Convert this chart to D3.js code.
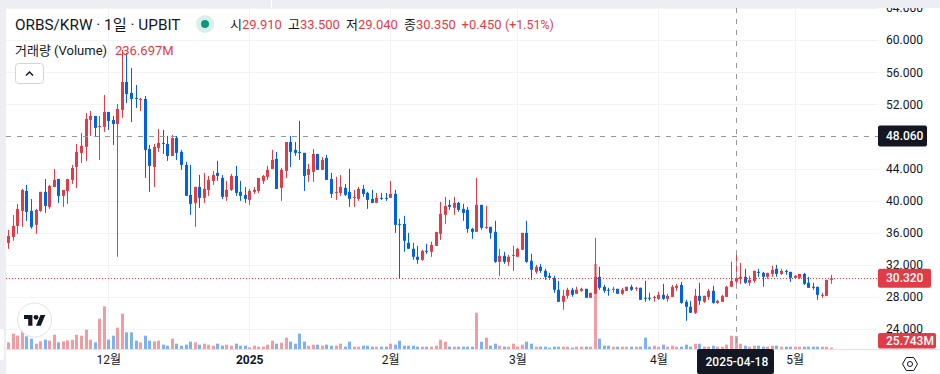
<!DOCTYPE html>
<html>
<head>
<meta charset="utf-8">
<script src="https://cdn.jsdelivr.net/npm/d3@7"></script>
<style>
  html, body { margin: 0; padding: 0; background: #fff; overflow: hidden; }
  text { font-family: Roboto, "Noto Sans CJK KR", sans-serif; }
</style>
</head>
<body>
<svg id="chart" width="940" height="374"></svg>
<script>
// daily candles, first one is 2024-11-09
const opens = [34.73,35.48,36.85,38.72,41.2,38.72,36.98,38.72,41.09,39.22,41.7,42.7,40.59,41.2,42.58,44.2,45.94,46.7,50.05,50.55,49.2,49.18,51.05,50.05,49.55,51.3,54.79,53.42,52.8,52.55,52.67,46.44,44.2,46.57,47.19,47.06,45.57,47.81,46.07,44.45,40.71,39.72,41.71,40.34,41.33,42.46,43.45,42.83,40.47,41.34,43.08,41.09,40.71,40.09,41.09,41.21,42.46,42.96,43.95,45.2,41.59,43.7,47.3,46.32,46.07,45.95,43.2,43.58,45.82,43.83,45.32,42.71,40.96,40.96,41.59,41.09,40.34,40.22,41.46,40.96,40.22,39.72,40.34,40.34,40.34,40.84,37.1,37.1,34.74,34,33,32.62,33.74,33.62,34.36,35.86,38.23,39.47,39.1,39.72,38.97,38.85,36.48,36.11,39.47,36.61,36.73,36.11,32.37,33.12,32.37,33.12,33,33.87,35.98,32.5,31.13,31.75,31.25,30.63,30.38,28.89,27.39,28.14,28.89,28.39,28.76,29.01,27.89,28.39,30.5,29.26,28.89,28.89,29.01,28.39,28.76,29.26,29.01,29.14,27.89,27.89,27.89,27.76,28.26,27.76,28,29.13,29.5,27.39,26.77,26.02,28.14,27.39,28,28.76,27.26,27.39,28,29.26,29.91,30.25,30.5,29.76,30,31.12,31,30.5,30.87,31.5,30.87,31.25,31.12,30.38,30.38,30.87,29.76,29.26,29.26,28.13,28.13,30.13];
const highs = [36.35,38.2,39.6,41.46,41.96,40.2,38.97,41.09,42.7,41.96,43.95,42.7,41.33,42.7,44.45,47.06,48.43,50.92,51.17,50.55,50.55,53.17,51.05,50.55,52.05,58.8,58.4,56.53,54.41,52.8,53.04,46.94,47.06,48.93,48.81,48.06,48.19,48.06,46.32,44.82,44.45,41.71,43.2,43.45,43.08,43.7,44.95,43.2,42.46,43.33,44.33,42.46,41.71,41.46,41.71,42.83,43.2,44.33,46.32,46.07,44.08,47.3,48.06,47.3,49.93,45.95,44.58,46.44,45.82,45.45,45.7,43.45,42.96,43.2,42.08,43.95,41.34,41.71,41.96,41.09,41.34,40.96,40.96,40.96,42.46,41.34,37.73,38.1,35.98,34.74,34.36,33.87,34.61,34.86,36.1,39.84,40.47,40.09,40.47,39.84,39.6,39.22,36.6,42.83,39.47,39.35,36.73,37.48,33.99,33.62,33.24,34.37,34.12,35.98,37.48,33.37,31.99,32.12,31.5,31,30.63,30,28.89,29.14,29.14,29.26,29.14,29,28.51,35.36,31.75,29.51,29.14,29.26,29.01,29.14,29.26,29.51,29.26,29.14,30,28.51,28.14,28.63,29.63,28.38,29.5,29.63,29.88,27.64,27.51,29,29.76,28.14,29,29.38,27.64,28.26,29.38,32.37,33.5,32.25,31.5,30.63,31.25,31.5,31.12,31,31.87,32,31.5,31.37,31.12,30.75,30.87,31,30.5,29.76,29.26,28.51,30.13,30.75];
const lows = [33.99,35,35.86,36.73,37.47,36.5,35.86,38.6,38.47,38.97,41.7,39.72,39.22,39.59,42.08,41.58,44.7,44.95,48.06,47.98,45.07,48.56,48.8,46.94,33,50.3,52.17,49.8,51.55,51.17,42.83,41.09,41.71,46.07,45.82,44.95,45.57,45.07,43.83,40.59,38.22,36.73,39.09,39.72,40.59,41.96,42.46,40.2,39.97,41.21,40.59,39.97,39.72,39.47,40.84,40.96,42.08,42.58,43.95,41.46,39.97,42.83,44.2,45.57,45.07,41.21,42.33,42.33,43.83,43.83,42.58,40.34,40.09,40.59,40.59,39.22,39.22,39.97,40.47,38.97,39.72,39.72,40.09,39.97,40.34,35.98,30.25,33.62,34,32.62,32.12,32.5,33.37,33,34.36,35.1,37.1,38.85,38.23,38.6,37.48,35.98,35.24,36.11,36.36,36.48,35.24,32.25,30.63,32.12,31.87,31.25,33,33.87,32.25,30.13,30.88,31,30.13,30.13,28.51,27.39,26.4,27.77,28.02,28.39,28.64,27.89,27.89,28.39,28.89,28.51,28.14,28.51,28.39,28.26,28.76,28.76,28.76,27.64,27.39,27.52,27.39,27.64,27.64,27.39,28,28.76,27.14,25.02,26.02,25.89,27,27.26,27.64,27.14,27.14,27.39,28,29.26,29.04,29.63,29.63,29.38,29.76,30.5,29.26,30.25,30.5,30.5,30.75,30.75,29.88,30.25,30.25,29.5,29.13,28.88,27.64,27.88,28.13,29.63];
const closes = [35.6,36.85,38.97,41.33,38.6,36.73,38.84,41.09,39.34,41.83,42.58,40.59,41.33,42.7,44.07,46.07,46.82,50.18,50.55,49.06,49.3,51.05,49.93,49.55,51.42,54.79,53.29,52.67,52.67,52.67,46.32,44.32,46.69,47.19,47.06,45.57,47.81,45.94,44.45,40.59,39.59,41.71,40.34,41.46,42.58,43.2,43.08,40.47,41.34,43.08,40.96,40.59,40.22,41.21,41.34,42.83,43.08,43.83,45.07,41.46,43.83,47.3,46.07,45.95,45.95,43.08,43.95,45.82,43.83,45.07,42.58,40.84,41.09,41.71,40.72,40.22,40.47,41.46,40.84,40.09,39.72,40.34,40.22,40.22,40.84,36.98,36.98,34.99,34,33,32.62,33.74,33.62,34.49,36.1,38.35,39.34,39.22,39.72,38.85,38.47,36.48,36.11,39.47,36.61,36.73,35.98,32.37,33.12,32.37,33,33.24,34,35.98,32.37,31.38,31.75,31.25,30.5,30.38,28.89,27.39,28.14,28.89,28.26,28.89,29.01,27.89,28.51,30.5,29.14,28.76,28.76,29.01,28.39,28.89,29.26,28.89,29.14,27.64,27.77,27.77,28,28.26,27.76,28.14,29.26,29.38,27.26,26.77,26.02,28.14,27.51,28.14,28.76,27.26,27.51,28.14,29.26,30,30.35,30.5,29.76,30.13,31.25,31,30.5,31,31.37,30.87,31.25,31.12,30.38,30.63,30.87,29.63,29.13,29.13,28.26,28.26,30.13,30.32];
// volume in millions
const volumes = [120,276,240,348,228,186,96,138,168,150,258,120,138,156,168,258,240,348,168,120,546,768,168,240,384,636,300,300,150,120,240,150,138,150,78,60,186,96,60,78,132,120,78,96,78,60,96,60,78,60,96,60,60,30,60,42,42,78,150,96,114,204,132,96,276,132,60,78,78,60,78,60,60,96,42,132,42,42,60,60,42,42,42,42,96,78,150,60,60,60,42,42,42,42,60,168,132,42,42,42,42,42,42,654,132,204,60,96,60,42,42,96,42,78,132,96,42,42,42,24,42,42,42,42,24,42,42,42,42,1530,186,60,60,42,42,42,42,42,42,42,204,42,60,42,78,42,60,42,42,78,42,96,96,42,42,60,42,42,78,240,236.697,96,60,42,60,60,42,42,60,60,42,42,42,42,42,42,42,42,42,42,42,25.743];

const priceTicks = [64, 60, 56, 52, 44, 40, 36, 32, 28, 24];
const monthIndex = [22, 53, 84, 112, 143, 173];
const monthLabels = ["12월", "2025", "2월", "3월", "4월", "5월"];
const legendItems = [["시", "29.910"], ["고", "33.500"], ["저", "29.040"], ["종", "30.350"]];
const legendChange = "+0.450", legendPercent = "(+1.51%)";

const crossIndex = 160, crossPrice = 48.06, lastPrice = 30.32;

const red = "#e03c47", blue = "#0062df", ink = "#131722", gridColor = "#f2f3f5";
const volRed = "#ef9da3", volBlue = "#7fb0ef";

let svg = d3.select("#chart");
let plot = {left: 6, top: 8, right: 878, bottom: 349};

let x = d3.scaleLinear().domain([0, 181]).range([8.3, 831]);
let y = d3.scaleLinear().domain([64, 24]).range([8, 329]);
let yVol = d3.scaleLinear().domain([0, 1530]).range([plot.bottom, 264]);

let colorOf = i => closes[i] >= opens[i] ? red : blue;
let px = v => Math.round(v);

// grid
svg.append("g").selectAll("line").data(priceTicks).join("line")
    .attr("x1", plot.left).attr("x2", plot.right)
    .attr("y1", d => px(y(d)) + .5).attr("y2", d => px(y(d)) + .5)
    .attr("stroke", gridColor);
svg.append("g").selectAll("line").data(monthIndex).join("line")
    .attr("x1", d => px(x(d)) + .5).attr("x2", d => px(x(d)) + .5)
    .attr("y1", plot.top).attr("y2", plot.bottom)
    .attr("stroke", gridColor);

let idx = d3.range(opens.length);

// volume bars
svg.append("g").selectAll("rect").data(idx).join("rect")
    .attr("x", i => px(x(i)) - 1)
    .attr("width", 3)
    .attr("y", i => yVol(volumes[i]))
    .attr("height", i => plot.bottom - yVol(volumes[i]))
    .attr("fill", i => closes[i] >= opens[i] ? volRed : volBlue);

// candles
let candles = svg.append("g");
candles.selectAll("line").data(idx).join("line")
    .attr("x1", i => px(x(i)) + .5).attr("x2", i => px(x(i)) + .5)
    .attr("y1", i => y(highs[i])).attr("y2", i => y(lows[i]))
    .attr("stroke", colorOf);
candles.selectAll("rect").data(idx).join("rect")
    .attr("x", i => px(x(i)) - 1)
    .attr("width", 3)
    .attr("y", i => y(Math.max(opens[i], closes[i])))
    .attr("height", i => Math.max(1, Math.abs(y(opens[i]) - y(closes[i]))))
    .attr("fill", colorOf);

// last price line
svg.append("line")
    .attr("x1", plot.left).attr("x2", plot.right)
    .attr("y1", px(y(lastPrice)) + .5).attr("y2", px(y(lastPrice)) + .5)
    .attr("stroke", red)
    .attr("stroke-dasharray", "1,2");

// crosshair
svg.append("line")
    .attr("x1", plot.left).attr("x2", plot.right)
    .attr("y1", px(y(crossPrice)) + .5).attr("y2", px(y(crossPrice)) + .5)
    .attr("stroke", "#9598a1").attr("stroke-dasharray", "5,6");
svg.append("line")
    .attr("x1", px(x(crossIndex)) + .5).attr("x2", px(x(crossIndex)) + .5)
    .attr("y1", plot.top).attr("y2", plot.bottom)
    .attr("stroke", "#9598a1").attr("stroke-dasharray", "5,6");

// axes
let yAxis = d3.axisRight(y).tickValues(priceTicks).tickSize(0).tickPadding(0).tickFormat(d3.format(".3f"));
let yAxisG = svg.append("g").attr("transform", `translate(886,0)`).call(yAxis);
yAxisG.select(".domain").remove();
yAxisG.selectAll("text").attr("font-size", 12).attr("fill", ink)
    .style("font-family", 'Roboto, "Noto Sans CJK KR", sans-serif');

let xAxis = d3.axisBottom(x).tickValues(monthIndex).tickSize(0).tickPadding(6)
    .tickFormat((d, i) => monthLabels[i]);
let xAxisG = svg.append("g").attr("transform", `translate(0,${plot.bottom})`).call(xAxis);
xAxisG.select(".domain").remove();
xAxisG.selectAll("text").attr("font-size", 12).attr("fill", ink)
    .attr("font-weight", d => d === 53 ? 700 : 400)
    .style("font-family", 'Roboto, "Noto Sans CJK KR", sans-serif');

svg.append("line").attr("x1", plot.left).attr("x2", 940)
    .attr("y1", plot.bottom + .5).attr("y2", plot.bottom + .5).attr("stroke", "#e0e3eb");

// page edges
svg.append("rect").attr("width", 940).attr("height", plot.top).attr("fill", "#eceef4");
svg.append("rect").attr("width", plot.left).attr("height", 374).attr("fill", "#eceef4");
svg.append("rect").attr("x", 271).attr("width", 1).attr("height", plot.top).attr("fill", "#fff");
svg.append("rect").attr("x", -3).attr("y", 329).attr("width", 7).attr("height", 31).attr("rx", 3).attr("fill", "#fff");

// price and date labels
function tag(xPos, yPos, w, h, bg, label, textX) {
    svg.append("rect").attr("x", xPos).attr("y", yPos).attr("width", w).attr("height", h)
        .attr("rx", 2).attr("fill", bg);
    svg.append("text").attr("x", textX).attr("y", yPos + h / 2).attr("dy", "0.35em")
        .attr("font-size", 12).attr("font-weight", 500).attr("fill", "#fff").text(label);
}
tag(878, y(crossPrice) - 10.5, 49, 21, ink, d3.format(".3f")(crossPrice), 886);
tag(878, y(lastPrice) - 9.5, 53, 19, red, d3.format(".3f")(lastPrice), 886);
tag(878, 333, 58, 15.5, red, volumes[181].toFixed(3) + "M", 886);
tag(697, plot.bottom, 77, 25, ink, "2025-04-18", 705.5);

// settings icon
svg.append("path")
    .attr("d", d3.line()(d3.range(6).map(k => {
        let a = k * Math.PI / 3;
        return [910 + 7.5 * Math.cos(a), 364 + 7.5 * Math.sin(a)];
    })) + "Z")
    .attr("fill", "none").attr("stroke", ink).attr("stroke-linejoin", "round");
svg.append("circle").attr("cx", 910).attr("cy", 364).attr("r", 2.5)
    .attr("fill", "none").attr("stroke", ink);

// legend
svg.append("text").attr("x", 15).attr("y", 30).attr("font-size", 15.3).attr("fill", ink)
    .text("ORBS/KRW · 1일 · UPBIT");
svg.append("circle").attr("cx", 205).attr("cy", 24).attr("r", 9).attr("fill", "#d9f0ea");
svg.append("circle").attr("cx", 205).attr("cy", 24).attr("r", 4).attr("fill", "#089981");

let legendX = d3.scalePoint().domain(d3.range(legendItems.length)).range([230, 404]);
let legendG = svg.append("g").attr("font-size", 13);
legendItems.forEach((d, i) => {
    let t = legendG.append("text").attr("x", legendX(i)).attr("y", 29);
    t.append("tspan").attr("fill", ink).text(d[0]);
    t.append("tspan").attr("fill", red).text(d[1]);
});
legendG.append("text").attr("x", 461.5).attr("y", 29).attr("fill", red).text(legendChange);
legendG.append("text").attr("x", 505).attr("y", 29).attr("font-size", 12.4).attr("fill", red).text(legendPercent);

svg.append("text").attr("x", 15).attr("y", 55).attr("font-size", 13).attr("fill", ink)
    .text("거래량 (Volume)");
svg.append("text").attr("x", 115).attr("y", 55).attr("font-size", 13).attr("fill", red)
    .text(volumes[crossIndex].toFixed(3) + "M");

// collapse button
svg.append("rect").attr("x", 15.5).attr("y", 63.5).attr("width", 28).attr("height", 20).attr("rx", 3)
    .attr("fill", "#fff").attr("stroke", "#d1d4dc");
svg.append("path").attr("d", "M26,75.5 L29.5,72 L33,75.5").attr("fill", "none")
    .attr("stroke", ink).attr("stroke-width", 1.5);

// logo
svg.append("circle").attr("cx", 34.5).attr("cy", 320).attr("r", 17).attr("fill", "#fff").attr("stroke", "#e0e3eb");
let logo = svg.append("g").attr("transform", "translate(24,312.5) scale(0.6)").attr("fill", ink);
logo.append("path").attr("d", "M14 22H7V11H0V4h14v18zM28 22h-8l7.5-18h8L28 22z");
logo.append("circle").attr("cx", 20).attr("cy", 8).attr("r", 4);
</script>
</body>
</html>
